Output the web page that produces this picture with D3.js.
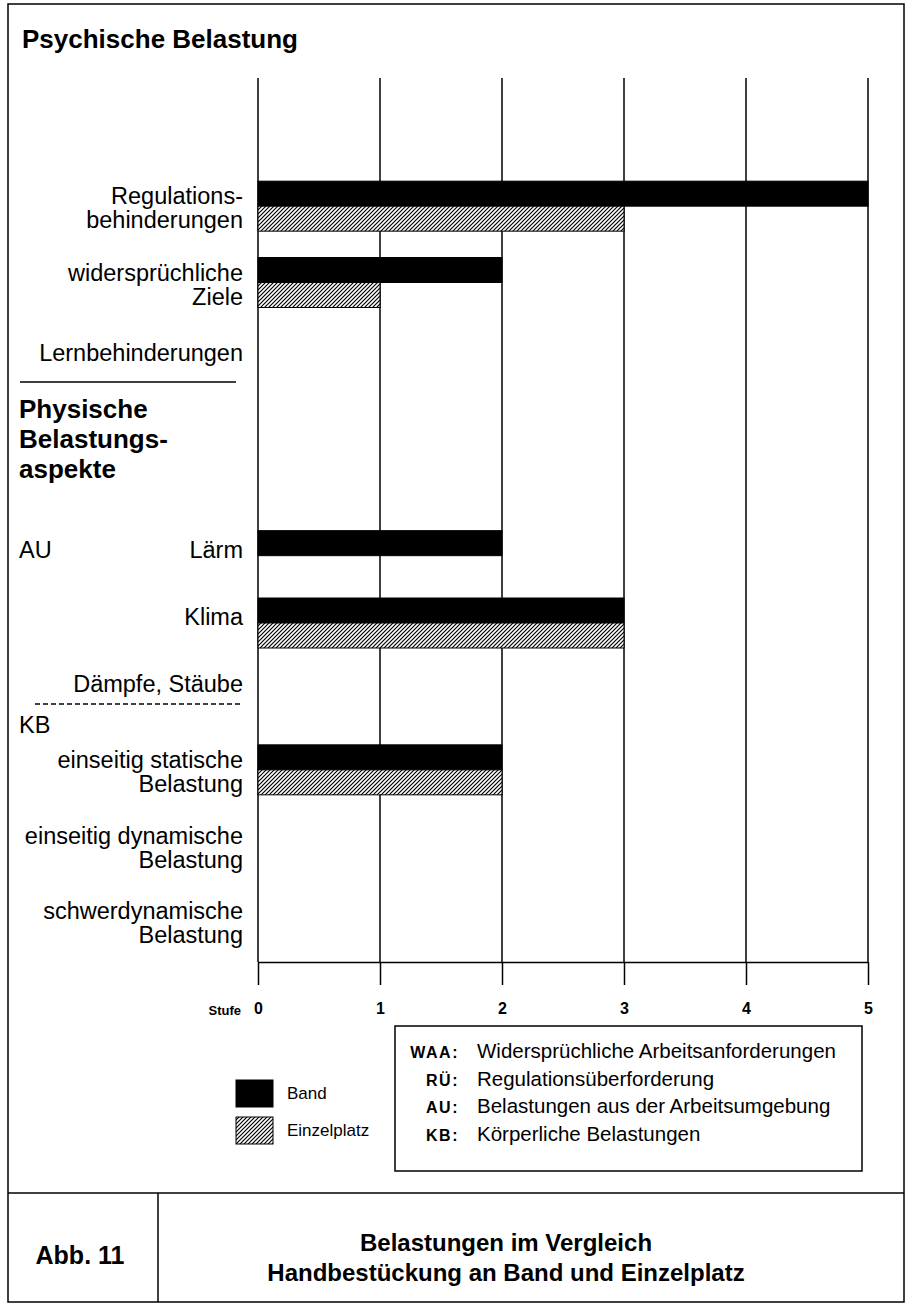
<!DOCTYPE html>
<html>
<head>
<meta charset="utf-8">
<script src="https://cdn.jsdelivr.net/npm/d3@7"></script>
<style>
body { margin: 0; background: #fff; }
text { font-family: "Liberation Sans", Arial, Helvetica, sans-serif; fill: #000; }
</style>
</head>
<body>
<div id="chart"></div>
<script>
// DATA
const categories = ["Regulations-|behinderungen", "widersprüchliche|Ziele", "Lernbehinderungen",
                    "Lärm", "Klima", "Dämpfe, Stäube",
                    "einseitig statische|Belastung", "einseitig dynamische|Belastung", "schwerdynamische|Belastung"];
const groupOf = ["psych", "psych", "psych", "AU", "AU", "AU", "KB", "KB", "KB"];
const bandValues = [5, 2, 0, 2, 3, 0, 2, 0, 0];
const einzelValues = [3, 1, 0, 0, 3, 0, 2, 0, 0];
const stufen = [0, 1, 2, 3, 4, 5];
const seriesNames = ["Band", "Einzelplatz"];
const abbrevKeys = ["WAA:", "RÜ:", "AU:", "KB:"];
const abbrevTexts = ["Widersprüchliche Arbeitsanforderungen", "Regulationsüberforderung",
                     "Belastungen aus der Arbeitsumgebung", "Körperliche Belastungen"];

// Variable Declarations
const width = 906, height = 1310;
const barH = 25;
const labelRight = 243;

const svg = d3.select("#chart")
    .append("svg")
    .attr("width", width)
    .attr("height", height);

// hatch pattern for Einzelplatz
const pat = svg.append("defs").append("pattern")
    .attr("id", "hatch")
    .attr("patternUnits", "userSpaceOnUse")
    .attr("width", 4)
    .attr("height", 4);
pat.append("rect").attr("width", 4).attr("height", 4).attr("fill", "#fff");
pat.append("path")
    .attr("d", "M-1,1 L1,-1 M0,4 L4,0 M3,5 L5,3")
    .attr("stroke", "#000")
    .attr("stroke-width", 1.2);

// outer frame
svg.append("rect")
    .attr("x", 8).attr("y", 4)
    .attr("width", 896).attr("height", 1298)
    .attr("fill", "none").attr("stroke", "#000").attr("stroke-width", 1.5);

// x scale
const x = d3.scaleLinear().domain([0, 5]).range([258, 868]);

// one band scale per section
const yScale = {
    psych: d3.scaleBand().domain(categories.slice(0, 3)).range([168, 397]),
    AU: d3.scaleBand().domain(categories.slice(3, 6)).range([522, 724]),
    KB: d3.scaleBand().domain(categories.slice(6, 9)).range([732, 959])
};
function yCenter(i) {
    const s = yScale[groupOf[i]];
    return s(categories[i]) + s.bandwidth() / 2;
}

// gridlines
svg.append("g").selectAll("line")
    .data(stufen)
    .join("line")
    .attr("x1", d => x(d)).attr("x2", d => x(d))
    .attr("y1", 78).attr("y2", 962)
    .attr("stroke", "#000").attr("stroke-width", 1.5);

// axis (baseline, ticks downward, labels)
const xAxis = svg.append("g")
    .attr("transform", "translate(0,962)")
    .call(d3.axisBottom(x).tickValues(stufen).tickFormat(d3.format("d"))
        .tickSizeInner(23).tickSizeOuter(0).tickPadding(18));
xAxis.select(".domain").attr("stroke-width", 1.5);
xAxis.selectAll(".tick line").attr("stroke-width", 1.5);
xAxis.selectAll(".tick text")
    .style("font-family", "'Liberation Sans', Arial, sans-serif")
    .style("font-weight", "bold")
    .style("font-size", "16px");

svg.append("text")
    .attr("x", 241).attr("y", 1015)
    .attr("text-anchor", "end")
    .style("font-size", "13px").style("font-weight", "bold")
    .text("Stufe");

// bars
const barData = [];
categories.forEach(function(c, i) {
    if (bandValues[i] > 0) barData.push({ i: i, v: bandValues[i], s: 0 });
    if (einzelValues[i] > 0) barData.push({ i: i, v: einzelValues[i], s: 1 });
});
svg.append("g").selectAll("rect")
    .data(barData)
    .join("rect")
    .attr("x", x(0))
    .attr("y", d => yCenter(d.i) - barH + d.s * barH)
    .attr("width", d => x(d.v) - x(0))
    .attr("height", barH)
    .attr("fill", d => d.s === 0 ? "#000" : "url(#hatch)")
    .attr("stroke", "#000")
    .attr("stroke-width", 1);

// category labels
const labels = svg.append("g")
    .style("font-size", "23.5px")
    .attr("text-anchor", "end");
categories.forEach(function(c, i) {
    const lines = c.split("|");
    const yc = yCenter(i);
    lines.forEach(function(line, k) {
        labels.append("text")
            .attr("x", labelRight)
            .attr("y", lines.length === 1 ? yc + 2 : yc - 2 + k * 24)
            .text(line);
    });
});

// section headings
svg.append("text")
    .attr("x", 22).attr("y", 48)
    .style("font-size", "26px").style("font-weight", "bold")
    .text("Psychische Belastung");

svg.append("line")
    .attr("x1", 20).attr("x2", 236).attr("y1", 382).attr("y2", 382)
    .attr("stroke", "#000").attr("stroke-width", 1.5);

["Physische", "Belastungs-", "aspekte"].forEach(function(t, k) {
    svg.append("text")
        .attr("x", 19).attr("y", 418 + k * 30)
        .style("font-size", "26px").style("font-weight", "bold")
        .text(t);
});

svg.append("text")
    .attr("x", 19).attr("y", yCenter(3) + 2)
    .style("font-size", "23.5px")
    .text("AU");

svg.append("line")
    .attr("x1", 35).attr("x2", 243).attr("y1", 704).attr("y2", 704)
    .attr("stroke", "#000").attr("stroke-width", 1.3)
    .attr("stroke-dasharray", "5,3");

svg.append("text")
    .attr("x", 19).attr("y", 733)
    .style("font-size", "23.5px")
    .text("KB");

// legend
const legend = svg.append("g");
seriesNames.forEach(function(n, k) {
    legend.append("rect")
        .attr("x", 236).attr("y", 1080 + k * 37)
        .attr("width", 37).attr("height", 27)
        .attr("fill", k === 0 ? "#000" : "url(#hatch)")
        .attr("stroke", "#000").attr("stroke-width", 1);
    legend.append("text")
        .attr("x", 287).attr("y", 1099 + k * 37)
        .style("font-size", "17px")
        .text(n);
});

// abbreviation box
svg.append("rect")
    .attr("x", 395).attr("y", 1026)
    .attr("width", 467).attr("height", 145)
    .attr("fill", "none").attr("stroke", "#000").attr("stroke-width", 1.5);
abbrevKeys.forEach(function(k, j) {
    svg.append("text")
        .attr("x", 459).attr("y", 1058 + j * 27.5)
        .attr("text-anchor", "end")
        .style("font-size", "16px").style("font-weight", "bold").style("letter-spacing", "1.5px")
        .text(k);
    svg.append("text")
        .attr("x", 477).attr("y", 1058 + j * 27.5)
        .style("font-size", "20.5px")
        .text(abbrevTexts[j]);
});

// caption box
svg.append("line")
    .attr("x1", 8).attr("x2", 904).attr("y1", 1193).attr("y2", 1193)
    .attr("stroke", "#000").attr("stroke-width", 1.5);
svg.append("line")
    .attr("x1", 158).attr("x2", 158).attr("y1", 1193).attr("y2", 1302)
    .attr("stroke", "#000").attr("stroke-width", 1.5);
svg.append("text")
    .attr("x", 80).attr("y", 1264)
    .attr("text-anchor", "middle")
    .style("font-size", "25px").style("font-weight", "bold")
    .text("Abb. 11");
["Belastungen im Vergleich", "Handbestückung an Band und Einzelplatz"].forEach(function(t, k) {
    svg.append("text")
        .attr("x", 506).attr("y", 1251 + k * 30)
        .attr("text-anchor", "middle")
        .style("font-size", "24px").style("font-weight", "bold")
        .text(t);
});
</script>
</body>
</html>
